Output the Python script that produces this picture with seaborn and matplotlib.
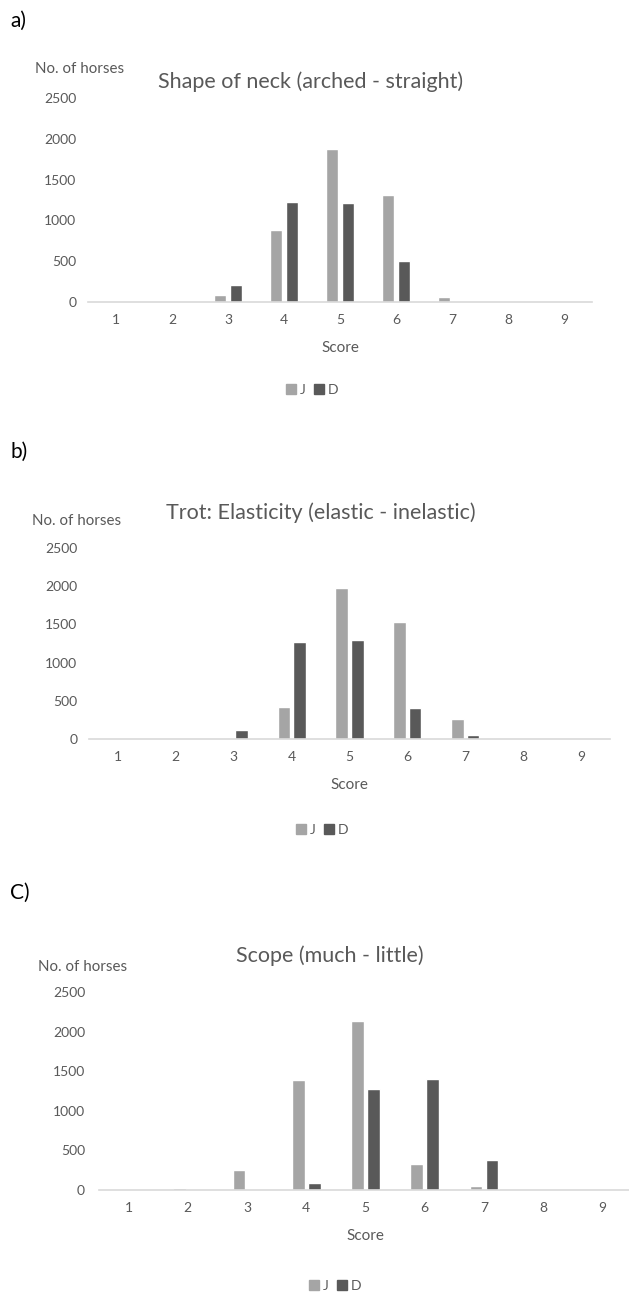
import pandas as pd
import numpy as np
import seaborn as sns
import matplotlib
matplotlib.use('Agg')
from matplotlib import pyplot as plt

scores = ['1', '2', '3', '4', '5', '6', '7', '8', '9']
groups = ['J', 'D']

neck_J = [0, 0, 80, 885, 1880, 1310, 60, 0, 0]
neck_D = [0, 0, 205, 1220, 1210, 500, 0, 0, 0]
trot_J = [0, 0, 0, 425, 1970, 1530, 260, 0, 0]
trot_D = [0, 0, 120, 1270, 1290, 400, 50, 0, 0]
scope_J = [0, 20, 255, 1390, 2140, 330, 50, 0, 0]
scope_D = [0, 0, 0, 85, 1270, 1400, 375, 0, 0]

titles = ['Shape of neck (arched - straight)',
          'Trot: Elasticity (elastic - inelastic)',
          'Scope (much - little)']
panel_tags = ['a)', 'b)', 'C)']

sns.set_style('white')
plt.rcParams['font.family'] = ['Lato', 'DejaVu Sans']

W, H = 629, 1292
fig = plt.figure(figsize=(W / 100, H / 100), dpi=100)
GREY = '#595959'
pal = {'J': '#a5a5a5', 'D': '#595959'}

def fx(x):
    return x / W

def fy(y):
    return 1 - y / H

# pixel layout of each panel: axes box, tag, y-label, title, legend centre
layout = [
    dict(box=(88, 592, 98, 302), tag=21, ylab=(35, 69), title=(311, 82), leg=(312, 390), ypad=8.5),
    dict(box=(89, 610, 548, 739), tag=452, ylab=(32, 521), title=(321, 513), leg=(322, 830), ypad=8.5),
    dict(box=(99, 632, 992, 1190), tag=893, ylab=(38, 967), title=(330, 956), leg=(335, 1286), ypad=10),
]
series = [(neck_J, neck_D), (trot_J, trot_D), (scope_J, scope_D)]

for i, (jv, dv) in enumerate(series):
    lay = layout[i]
    l, r, t, b = lay['box']
    ax = fig.add_axes([fx(l), fy(b), (r - l) / W, (b - t) / H])

    df = pd.DataFrame({'Score': scores * 2,
                       'Group': ['J'] * 9 + ['D'] * 9,
                       'Horses': jv + dv})
    sns.barplot(data=df, x='Score', y='Horses', hue='Group', hue_order=groups,
                palette=pal, saturation=1, width=0.54, gap=0.2, ax=ax)

    ax.set_xlim(-0.5, 8.5)
    ax.set_ylim(0, 2500)
    ax.set_yticks([0, 500, 1000, 1500, 2000, 2500])
    for s in ['top', 'right', 'left']:
        ax.spines[s].set_visible(False)
    ax.spines['bottom'].set_color('#d9d9d9')
    ax.spines['bottom'].set_linewidth(1.2)
    ax.tick_params(axis='both', length=0, labelsize=10, labelcolor=GREY)
    ax.tick_params(axis='x', pad=8.5)
    ax.tick_params(axis='y', pad=lay['ypad'])
    ax.set_ylabel('')
    ax.set_xlabel('Score', fontsize=11, color=GREY, labelpad=11)

    ax.get_legend().remove()
    handles = [plt.Rectangle((0, 0), 1, 1, color=pal[g]) for g in groups]
    fig.legend(handles, groups, loc='center', ncol=2, frameon=False,
               bbox_to_anchor=(fx(lay['leg'][0]), fy(lay['leg'][1])),
               fontsize=10, labelcolor=GREY, handlelength=0.7, handleheight=0.7,
               handletextpad=0.3, columnspacing=0.6)

    fig.text(fx(10), fy(lay['tag']), panel_tags[i], fontsize=15, color='black',
             ha='left', va='center')
    fig.text(fx(lay['ylab'][0]), fy(lay['ylab'][1]), 'No. of horses', fontsize=10.9,
             color=GREY, ha='left', va='center')
    fig.text(fx(lay['title'][0]), fy(lay['title'][1]), titles[i], fontsize=15.5,
             color=GREY, ha='center', va='center')

plt.savefig('out.png', dpi=100)
